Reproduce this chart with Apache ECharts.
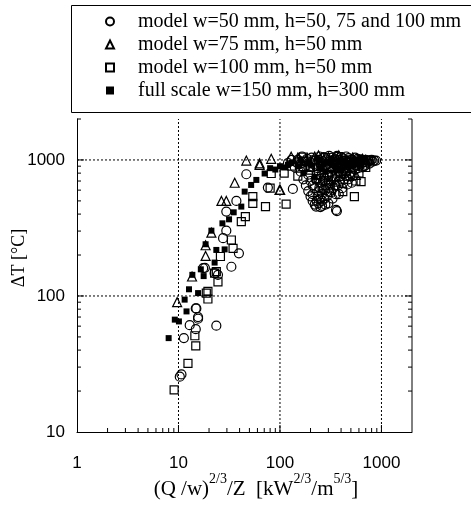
<!DOCTYPE html>
<html>
<head>
<meta charset="utf-8">
<script src="https://cdn.jsdelivr.net/npm/echarts@6/dist/echarts.min.js"></script>
<style>
html,body{margin:0;padding:0;background:#fff;}
#chart{width:471px;height:506px;}
</style>
</head>
<body>
<div id="chart"></div>
<script>
// ---- data (x = (Q/w)^(2/3)/Z, y = ΔT) ----
const seriesNames = [
  'model w=50 mm, h=50, 75 and 100 mm',
  'model w=75 mm, h=50 mm',
  'model w=100 mm, h=50 mm',
  'full scale w=150 mm, h=300 mm'
];
const circleData = [
  [15.0,81],[15.6,70],[14.8,81],[15.6,68],[12.9,61],[14.8,57],[11.3,49],[23.6,60.5],[10.3,25.5],[10.7,26.5],
  [17.5,160],[22.7,147],[18.2,161],[24.5,143],[33.2,164],[39.4,206],[27.5,266],[29.6,302],[29.6,417],[37.2,500],
  [46.6,785],[76,626],[134,612],
  [120,950],[140,880],[150,1000],[160,820],[170,720],[180,650],[190,590],[200,540],[210,500],[220,470],[227,454],
  [240,480],[250,520],[260,560],[270,610],[280,700],[300,760],[320,820],[340,900],[360,960],[380,1000],[400,1050],
  [420,980],[450,920],[480,870],[500,800],[520,760],[550,850],[600,900],[650,950],[700,1000],[750,980],[800,1000],
  [850,990],[885,990],[820,973],[357,429],[364,421],[300,480],[330,520],[280,600],[200,700],[230,780],[260,850],
  [290,920],[310,980],[330,1040],[370,880],[400,800],[430,720],[460,660],[180,900],[200,960],[240,1000],[270,1050],
  [450,1060],[550,1040],[600,1000],[650,880],[700,920],[250,680],[220,620],[190,780],[160,940],[350,650],[380,560],
  [320,580],[410,620],[260,500],[290,540],[240,590],[210,560],[310,650],[350,760],[390,700],[500,960],[620,980],
  [130,1000],[145,960],[165,1060],[175,970],[185,1020],[195,890],[205,1040],[215,930],[225,990],[235,870],
  [245,1060],[255,930],[265,980],[275,890],[285,1010],[295,860],[305,1070],[315,900],[325,960],[335,850],
  [345,1010],[355,920],[365,1070],[375,830],[385,940],[395,870],[405,960],[415,1030],[425,850],[435,930],
  [445,990],[455,820],[465,960],[475,1030],[490,900],[510,1000],[530,880],[540,960],[560,920],[580,1020],
  [590,870],[610,940],[630,1010],[660,960],[680,900],[720,960],[760,940],[780,990],
  [210,650],[225,720],[235,540],[245,630],[255,760],[265,700],[275,520],[285,650],[295,780],[305,580],
  [315,700],[325,760],[335,620],[345,720],[355,560],[365,800],[375,650],[395,760],[420,680],[440,800],
  [470,720],[490,760],[510,680],[260,460],[280,470],[230,500],[250,450],[300,620],[270,740]
];
const triangleData = [
  [9.7,90],[13.6,139],[18.5,197],[18.5,236],[21.1,292],[26.5,500],[29.6,500],[35.8,680],[46.6,990],[63,918],
  [63,945],[82,1020],[99,603],[100.5,603],[129,1057],[150,1040],[180,1000],[220,1060],[300,1050],[400,1000],
  [500,950],[560,776],[357,692],[250,900],[700,1000],[200,850],[280,780],[450,880],
  [160,980],[240,1080],[330,1000],[380,1080],[600,960],[650,1020],[520,1040],[170,900]
];
const squareData = [
  [9.06,20.4],[12.4,32],[14.8,43],[14.5,51],[18.8,105],[19.5,95],[19.5,108],[23.6,151],[24.5,127],[25.9,195],
  [33.2,258],[34.5,224],[41.6,352],[45.6,383],[54,537],[54,480],[72,454],[80,620],[82,795],[115,474],
  [22.7,147],[541,537],[416,585],[630,692],[110,800],[130,900],[150,760],[200,880],[250,950],[300,700],
  [350,1000],[400,900],[500,1000],[600,800],[450,760],[700,880],[170,1050],[260,620],
  [180,980],[220,1000],[280,1040],[320,880],[380,1060],[420,820],[480,980],[550,960],[650,1000],[750,1000],
  [560,700],[230,730]
];
const filledData = [
  [8.0,49],[9.2,67],[10.1,65],[11.5,94],[12,77],[12.7,112],[13.7,143],[15.6,105],[16.6,157],[17.7,140],
  [18.5,240],[21.1,302],[22.7,176],[23.6,218],[27.1,342],[28.5,220],[31.5,366],[35,412],[41.6,454],[44.9,585],
  [52,655],[58.5,713],[70.6,795],[90,850],[110,880],[130,950],[150,900],[200,920],[250,870],[300,960],
  [350,900],[400,850],[500,900],[600,950],[170,800],[220,750],[280,820],
  [160,1000],[190,960],[240,1000],[270,940],[320,1000],[380,980],[450,960],[550,1000],[650,1000],[120,920],
  [100,900],[80,870]
];
// ---- axis decorations ----
const xMajorTicks = [10,100,1000];
const xMinorTicks = [2,3,4,5,6,7,8,9,20,30,40,50,60,70,80,90,200,300,400,500,600,700,800,900];
const yMajorTicks = [100,1000];
const yMinorTicks = [20,30,40,50,60,70,80,90,200,300,400,500,600,700,800,900,2000];
const xGrid = [10,100,1000];
const yGrid = [100,1000];
const X_MIN = 1, X_MAX = 2000, Y_MIN = 10, Y_MAX = 2000;

function isPow10(v){ const l = Math.log10(v); return Math.abs(l - Math.round(l)) < 1e-6; }
function powLabel(v){ return isPow10(v) ? String(Math.round(v)) : ''; }

const chart = echarts.init(document.getElementById('chart'), null, {renderer:'canvas'});

function lineEl(a,b,dash){
  return {type:'line', shape:{x1:a[0],y1:a[1],x2:b[0],y2:b[1]},
    style:{stroke:'#000', lineWidth:1, lineDash: dash || null}};
}

const decoSeries = [
  { type:'custom', coordinateSystem:'cartesian2d', silent:true, z:1, clip:false,
    data: xGrid.map(v => [v, Y_MIN]),
    renderItem:(p, api) => { const v = api.value(0);
      return lineEl(api.coord([v, Y_MIN]), api.coord([v, Y_MAX]), [2,2]); } },
  { type:'custom', coordinateSystem:'cartesian2d', silent:true, z:1, clip:false,
    data: yGrid.map(v => [X_MIN, v]),
    renderItem:(p, api) => { const v = api.value(1);
      return lineEl(api.coord([X_MIN, v]), api.coord([X_MAX, v]), [2,2]); } },
  { type:'custom', coordinateSystem:'cartesian2d', silent:true, z:1, clip:false,
    data: xMajorTicks.map(v => [v, Y_MIN, 7]).concat(xMinorTicks.map(v => [v, Y_MIN, 4])),
    renderItem:(p, api) => { const a = api.coord([api.value(0), Y_MIN]); const L = api.value(2);
      return lineEl(a, [a[0], a[1]-L]); } },
  { type:'custom', coordinateSystem:'cartesian2d', silent:true, z:1, clip:false,
    data: yMajorTicks.map(v => [X_MIN, v, 7]).concat(yMinorTicks.map(v => [X_MIN, v, 4])),
    renderItem:(p, api) => { const v = api.value(1), L = api.value(2);
      const a = api.coord([X_MIN, v]), b = api.coord([X_MAX, v]);
      return {type:'group', children:[lineEl(a,[a[0]+L,a[1]]), lineEl(b,[b[0]-L,b[1]])]}; } },
  { type:'custom', coordinateSystem:'cartesian2d', silent:true, z:1, clip:false,
    data: [[X_MAX, Y_MIN]],
    renderItem:(p, api) => lineEl(api.coord([X_MAX, Y_MIN]), api.coord([X_MAX, Y_MAX])) }
];

const openStyle = {color:'rgba(0,0,0,0)', borderColor:'#000', borderWidth:1.2, opacity:1};

const option = {
  animation:false,
  backgroundColor:'#fff',
  grid:{left:77, right:59, top:119, bottom:74},
  xAxis:{type:'log', logBase:10, min:X_MIN, max:X_MAX,
    axisLine:{show:true, lineStyle:{color:'#000', width:1}},
    axisTick:{show:false}, splitLine:{show:false}, minorTick:{show:false},
    axisLabel:{formatter:powLabel, color:'#000', fontFamily:'Liberation Sans', fontSize:17, margin:23}},
  yAxis:{type:'log', logBase:10, min:Y_MIN, max:Y_MAX,
    axisLine:{show:true, lineStyle:{color:'#000', width:1}},
    axisTick:{show:false}, splitLine:{show:false}, minorTick:{show:false},
    axisLabel:{formatter:powLabel, color:'#000', fontFamily:'Liberation Sans', fontSize:17, margin:12}},
  legend:{
    data: seriesNames, orient:'vertical', left:105, top:10, padding:0, itemGap:0,
    itemWidth:8, itemHeight:8, selectedMode:false,
    formatter: n => '{g| }' + n,
    textStyle:{fontFamily:'Liberation Serif', fontSize:20, color:'#000', lineHeight:23,
      rich:{g:{width:19, fontSize:20, lineHeight:23}}}
  },
  graphic:[
    {type:'rect', shape:{x:71.5, y:5.5, width:440, height:107}, style:{fill:'none', stroke:'#000', lineWidth:1}, z:10},
    {type:'text', x:19, y:258, rotation:Math.PI/2,
      style:{text:'ΔT [°C]', align:'center', verticalAlign:'middle', fill:'#000', font:'18px "Liberation Serif"'}},
    {type:'text', x:256, y:486,
      style:{text:'{m|(Q /w)}{p|2/3}{m|/Z  [kW}{p|2/3}{m|/m}{p|5/3}{m|]}', align:'center', verticalAlign:'middle', fill:'#000',
        rich:{m:{fontFamily:'Liberation Serif', fontSize:21, lineHeight:28, verticalAlign:'bottom', fill:'#000'},
              p:{fontFamily:'Liberation Serif', fontSize:14, lineHeight:14, verticalAlign:'top', fill:'#000'}}}}
  ],
  series: decoSeries.concat([
    {name:seriesNames[0], type:'scatter', symbol:'circle', symbolSize:9, data:circleData, itemStyle:openStyle, z:3},
    {name:seriesNames[1], type:'scatter', symbol:'triangle', symbolSize:9, data:triangleData, itemStyle:openStyle, z:3},
    {name:seriesNames[2], type:'scatter', symbol:'rect', symbolSize:8, data:squareData, itemStyle:openStyle, z:3},
    {name:seriesNames[3], type:'scatter', symbol:'rect', symbolSize:6, data:filledData, itemStyle:{color:'#000', borderColor:'#000', borderWidth:0, opacity:1}, z:4}
  ])
};
chart.setOption(option);
</script>
</body>
</html>
